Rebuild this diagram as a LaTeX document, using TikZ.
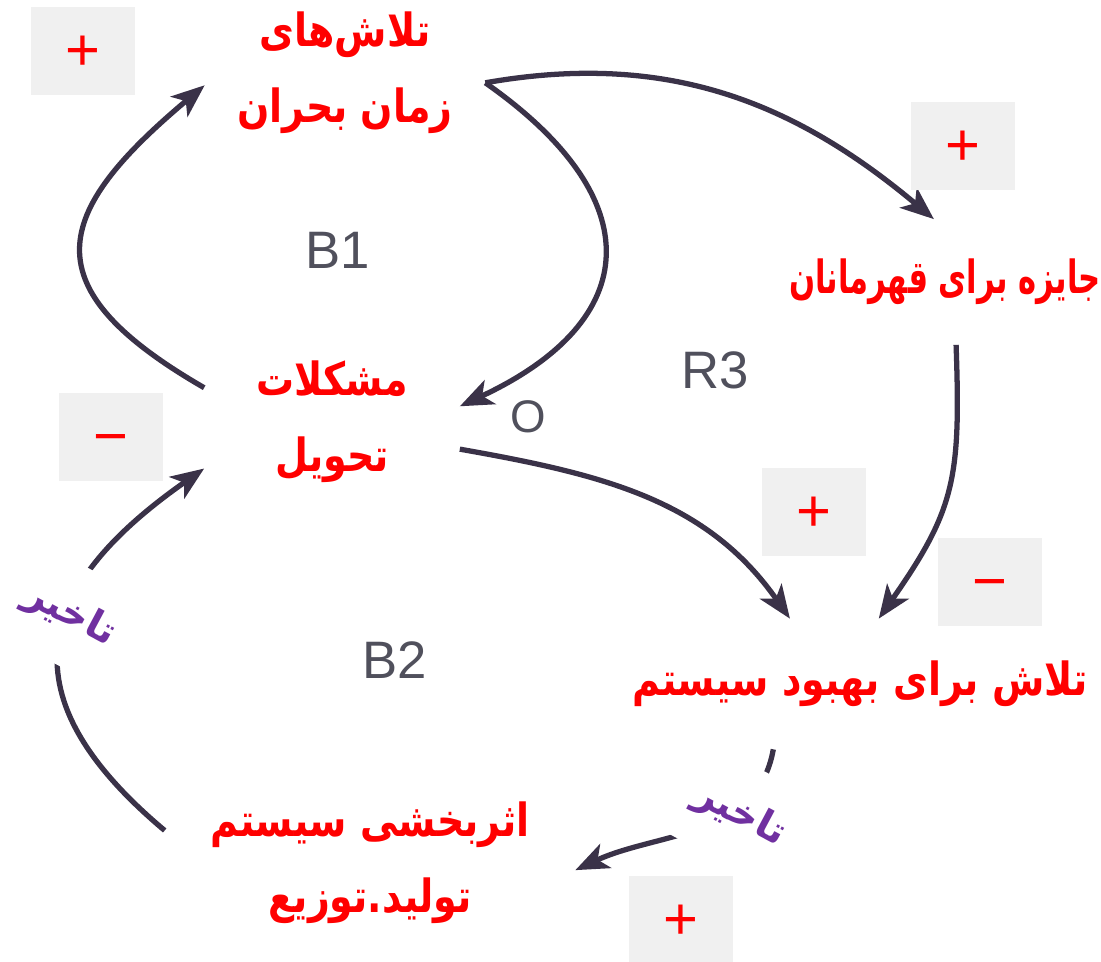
\documentclass[tikz,border=0pt]{standalone}
\usepackage{fontspec}
\setsansfont{Liberation Sans}
\newfontfamily\farsi[Script=Arabic, FakeStretch=0.83]{DejaVu Sans}
\newfontfamily\farsinarrow[Script=Arabic, FakeStretch=0.67]{DejaVu Sans}
\newfontfamily\farsiwide[Script=Arabic]{DejaVu Sans}
\TeXXeTstate=1
\usetikzlibrary{arrows.meta}
\definecolor{arrowgray}{RGB}{58,50,72}
\definecolor{loopgray}{RGB}{80,80,92}
\definecolor{signgray}{RGB}{240,240,240}
\definecolor{delaypurple}{RGB}{112,48,160}
\newcommand{\fa}[1]{\beginR #1\endR}

\begin{document}
\begin{tikzpicture}[x=0.02cm, y=0.02cm,
  var/.style={fill=white, text=red, align=center, inner sep=0pt,
    font=\farsi\bfseries\fontsize{26}{43}\selectfont},
  sign/.style={fill=signgray, text=red, inner sep=0pt,
    minimum width=2.08cm, minimum height=1.76cm,
    text height=22pt, text depth=0pt,
    font=\sffamily\fontsize{34}{34}\selectfont},
  loopname/.style={text=loopgray, font=\sffamily\fontsize{30}{30}\selectfont},
  delay/.style={fill=white, text=delaypurple, rotate=-28, inner sep=0pt,
    minimum width=3.6cm, minimum height=2cm,
    font=\farsiwide\bfseries\fontsize{22}{22}\selectfont},
  link/.style={draw=arrowgray, line width=3pt,
    -{Stealth[length=19pt, width=15pt, inset=5pt]}}]

\useasboundingbox (0,0) rectangle (1101,962);

\node[var, minimum width=5.6cm, minimum height=2.4cm] (crisis) at (345,889) {\fa{تلاش‌های}\\\fa{زمان بحران}};
\node[var, minimum width=6.2cm, minimum height=2.5cm, font=\farsinarrow\bfseries\fontsize{26}{43}\selectfont] (reward) at (945,680) {\fa{جایزه برای قهرمانان}};
\node[var, minimum width=5.1cm, minimum height=3.2cm] (delivery) at (332,540) {\fa{مشکلات}\\\fa{تحویل}};
\node[var, minimum width=9.3cm, minimum height=2.6cm] (improve) at (860,278) {\fa{تلاش برای بهبود سیستم}};
\node[var, minimum width=8.2cm, minimum height=3.8cm] (effect) at (370,99) {\fa{اثربخشی سیستم}\\\fa{تولید.توزیع}};

\node[loopname] (b1) at (338,712) {B1};
\node[loopname] (r3) at (715,592) {R3};
\node[loopname] (b2) at (395,302) {B2};
\node[loopname, font=\sffamily\fontsize{26}{26}\selectfont] (opp) at (528,545) {O};

\draw[link] (delivery.165) to[out=150, in=-140, looseness=1.7] (crisis.185);
\draw[link] (crisis.-4) to[out=-35, in=25, looseness=1.6] (delivery.7);
\draw[link] (crisis.-4) to[out=10, in=140] (reward.100);
\draw[link] (reward.-80) to[out=-88, in=55, looseness=1.2] (improve.74);
\draw[link] (delivery.-12) to[out=-10, in=125] (improve.137);
\draw[link] (improve.-143) to[out=-100, in=25] (effect.-2);
\draw[link] (effect.171) to[out=140, in=-145, looseness=1.47] (delivery.200);

\node[delay] (delay1) at (70,347) {\fa{تاخیر}};
\node[delay] (delay2) at (740,147) {\fa{تاخیر}};

\node[sign] (s1) at (83,911) {+};
\node[sign] (s2) at (963,816) {+};
\node[sign] (s3) at (111,525) {−};
\node[sign] (s4) at (814,450) {+};
\node[sign] (s5) at (990,380) {−};
\node[sign] (s6) at (681,42) {+};

\end{tikzpicture}
\end{document}
